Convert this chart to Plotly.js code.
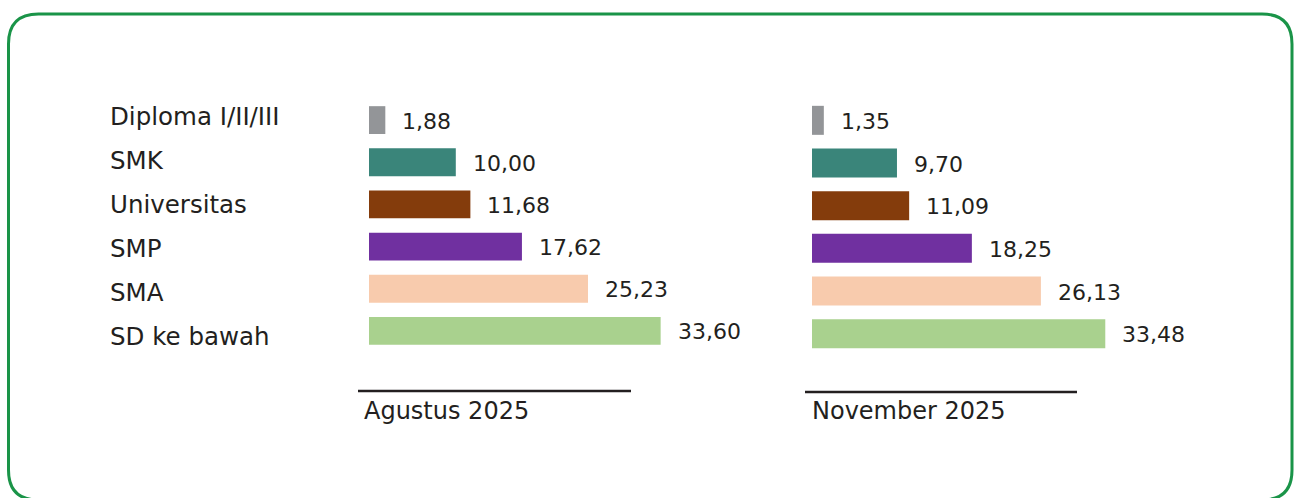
<!DOCTYPE html>
<html>
<head>
<meta charset="utf-8">
<script src="https://cdn.plot.ly/plotly-3.0.1.min.js"></script>
<style>
  html, body { margin: 0; padding: 0; background: #fff; }
  #chart { width: 1296px; height: 498px; }
</style>
</head>
<body>
<div id="chart"></div>
<script>
// education levels, top to bottom
const categories = ['Diploma I/II/III', 'SMK', 'Universitas', 'SMP', 'SMA', 'SD ke bawah'];
const agustus2025 = [1.88, 10.00, 11.68, 17.62, 25.23, 33.60];
const november2025 = [1.35, 9.70, 11.09, 18.25, 26.13, 33.48];
const periods = ['Agustus 2025', 'November 2025'];
const barColors = ['#939598', '#3a857a', '#843c0c', '#7030a0', '#f8cbad', '#a9d18e'];

const W = 1296, H = 498;
// pixel -> paper helpers (margins are zero so paper == figure)
const px = x => x / W;
const py = y => 1 - y / H;

const fmt = v => v.toFixed(2).replace('.', ',');
const textColor = '#231f20';

const traces = [
    {
        type: 'bar', orientation: 'h',
        y: categories, x: agustus2025,
        xaxis: 'x', yaxis: 'y',
        width: 0.66,
        marker: { color: barColors },
        hoverinfo: 'skip'
    },
    {
        type: 'bar', orientation: 'h',
        y: categories, x: november2025,
        xaxis: 'x2', yaxis: 'y2',
        width: 0.68,
        marker: { color: barColors },
        hoverinfo: 'skip'
    }
];

const catAxis = {
    type: 'category',
    categoryarray: categories,
    range: [categories.length - 0.5, -0.5],
    showgrid: false, zeroline: false, showline: false,
    showticklabels: false, ticks: ''
};
const valAxis = {
    showgrid: false, zeroline: false, showline: false,
    showticklabels: false, ticks: ''
};

// value labels next to each bar
const annotations = [];
[[agustus2025, 'x', 'y'], [november2025, 'x2', 'y2']].forEach(([vals, xr, yr]) => {
    vals.forEach((v, i) => {
        annotations.push({
            xref: xr, yref: yr, x: v, y: categories[i],
            text: fmt(v), showarrow: false,
            xanchor: 'left', yanchor: 'middle', xshift: 15, yshift: -1,
            font: { size: 22, color: textColor }
        });
    });
});

// category names on the left
categories.forEach(c => {
    annotations.push({
        xref: 'paper', yref: 'y3', x: px(108), y: c,
        text: c, showarrow: false,
        xanchor: 'left', yanchor: 'middle',
        font: { size: 24.5, color: textColor }
    });
});

// period labels under each panel
[[362, periods[0]], [810, periods[1]]].forEach(([x, t]) => {
    annotations.push({
        xref: 'paper', yref: 'paper', x: px(x), y: py(411),
        text: t, showarrow: false,
        xanchor: 'left', yanchor: 'middle',
        font: { size: 24, color: textColor }
    });
});

// rounded green frame
function roundedRect(x0, y0, x1, y1, r) {
    const rx = r / W, ry = r / H;
    const L = px(x0), R = px(x1), T = py(y0), B = py(y1);
    return `M ${L},${T - ry} Q ${L},${T} ${L + rx},${T} L ${R - rx},${T} Q ${R},${T} ${R},${T - ry} ` +
           `L ${R},${B + ry} Q ${R},${B} ${R - rx},${B} L ${L + rx},${B} Q ${L},${B} ${L},${B + ry} Z`;
}

const shapes = [
    {
        type: 'path', xref: 'paper', yref: 'paper',
        path: roundedRect(8.5, 14, 1292, 500, 30),
        line: { color: '#1a9448', width: 3 }
    },
    {
        type: 'line', xref: 'paper', yref: 'paper',
        x0: px(358), x1: px(631), y0: py(391), y1: py(391),
        line: { color: textColor, width: 2.5 }
    },
    {
        type: 'line', xref: 'paper', yref: 'paper',
        x0: px(805), x1: px(1077), y0: py(392), y1: py(392),
        line: { color: textColor, width: 2.5 }
    }
];

const layout = {
    width: W, height: H,
    margin: { t: 0, b: 0, l: 0, r: 0, pad: 0 },
    paper_bgcolor: '#ffffff',
    plot_bgcolor: 'rgba(0,0,0,0)',
    showlegend: false,
    font: { family: 'DejaVu Sans, sans-serif', color: textColor },
    xaxis: Object.assign({}, valAxis, { domain: [px(369), px(740)], range: [0, (740 - 369) / 8.68], anchor: 'y' }),
    xaxis2: Object.assign({}, valAxis, { domain: [px(812), px(1180)], range: [0, (1180 - 812) / 8.76], anchor: 'y2' }),
    yaxis: Object.assign({}, catAxis, { domain: [py(352), py(99)], anchor: 'x' }),
    yaxis2: Object.assign({}, catAxis, { domain: [py(355), py(99)], anchor: 'x2' }),
    yaxis3: Object.assign({}, catAxis, { domain: [py(358), py(95)], anchor: 'free', position: 0, visible: false }),
    annotations: annotations,
    shapes: shapes
};

Plotly.newPlot('chart', traces, layout, { displayModeBar: false, staticPlot: true });
</script>
</body>
</html>
